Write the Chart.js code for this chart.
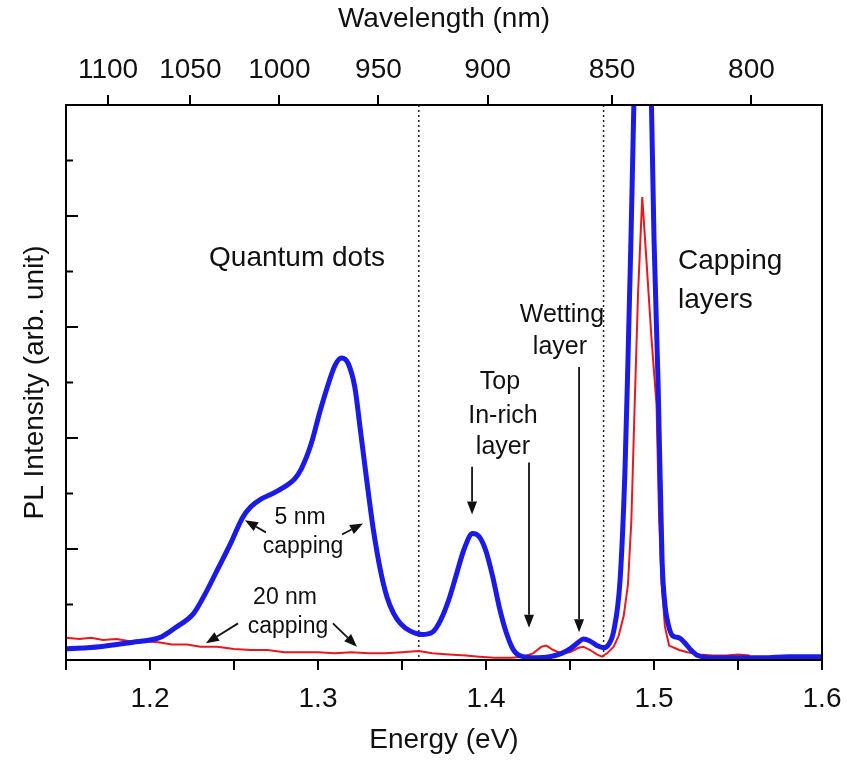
<!DOCTYPE html>
<html>
<head>
<meta charset="utf-8">
<script src="https://cdn.jsdelivr.net/npm/chart.js@4.4.1/dist/chart.umd.min.js"></script>
<style>
    html, body { margin: 0; padding: 0; background: #fff; }
</style>
</head>
<body>
<canvas id="pl-chart" width="847" height="762"></canvas>
<script>
// Blue curve: 5 nm capping
const blueEnergy = [1.150, 1.170, 1.190, 1.200, 1.207, 1.215, 1.226, 1.233, 1.240, 1.248, 1.255, 1.260, 1.266, 1.273, 1.280, 1.286, 1.290, 1.296, 1.301, 1.306, 1.310, 1.314, 1.318, 1.322, 1.325, 1.329, 1.333, 1.337, 1.341, 1.345, 1.349, 1.355, 1.362, 1.368, 1.373, 1.378, 1.382, 1.387, 1.392, 1.396, 1.400, 1.404, 1.408, 1.412, 1.416, 1.420, 1.430, 1.438, 1.445, 1.450, 1.455, 1.458, 1.462, 1.466, 1.470, 1.473, 1.476, 1.4798, 1.4827, 1.4845, 1.4863, 1.4880, 1.4905, 1.4932, 1.4960, 1.4985, 1.5000, 1.5024, 1.5048, 1.5065, 1.5085, 1.511, 1.515, 1.518, 1.522, 1.526, 1.535, 1.550, 1.565, 1.580, 1.600];
const blueIntensity = [0.10, 0.12, 0.16, 0.18, 0.21, 0.29, 0.42, 0.60, 0.81, 1.05, 1.28, 1.38, 1.45, 1.50, 1.56, 1.63, 1.72, 1.95, 2.23, 2.48, 2.65, 2.72, 2.67, 2.45, 2.10, 1.62, 1.17, 0.82, 0.57, 0.42, 0.33, 0.26, 0.23, 0.25, 0.36, 0.55, 0.75, 1.00, 1.14, 1.11, 0.98, 0.75, 0.47, 0.25, 0.10, 0.04, 0.02, 0.03, 0.06, 0.10, 0.16, 0.19, 0.17, 0.13, 0.11, 0.14, 0.26, 0.72, 1.70, 2.70, 3.80, 5.00, 6.80, 7.60, 6.80, 5.00, 3.80, 2.52, 0.90, 0.50, 0.32, 0.22, 0.20, 0.16, 0.09, 0.04, 0.02, 0.02, 0.02, 0.03, 0.03];

// Red curve: 20 nm capping
const redEnergy = [1.150, 1.158, 1.165, 1.172, 1.180, 1.188, 1.196, 1.205, 1.213, 1.222, 1.230, 1.240, 1.250, 1.260, 1.270, 1.280, 1.290, 1.300, 1.310, 1.320, 1.330, 1.340, 1.350, 1.360, 1.368, 1.378, 1.388, 1.396, 1.405, 1.415, 1.422, 1.428, 1.433, 1.436, 1.440, 1.445, 1.450, 1.455, 1.458, 1.462, 1.466, 1.469, 1.472, 1.476, 1.479, 1.482, 1.4845, 1.4865, 1.4885, 1.4905, 1.4930, 1.4955, 1.4985, 1.5015, 1.5030, 1.5045, 1.5065, 1.509, 1.515, 1.520, 1.527, 1.535, 1.543, 1.550, 1.557];
const redIntensity = [0.20, 0.19, 0.20, 0.18, 0.19, 0.17, 0.17, 0.16, 0.14, 0.14, 0.12, 0.12, 0.10, 0.09, 0.09, 0.07, 0.07, 0.07, 0.06, 0.07, 0.06, 0.06, 0.07, 0.08, 0.06, 0.05, 0.04, 0.03, 0.02, 0.02, 0.03, 0.06, 0.12, 0.13, 0.09, 0.06, 0.07, 0.11, 0.12, 0.09, 0.05, 0.03, 0.06, 0.12, 0.22, 0.40, 0.68, 1.25, 2.30, 3.30, 4.17, 3.60, 2.90, 2.30, 1.30, 0.70, 0.30, 0.13, 0.09, 0.07, 0.05, 0.04, 0.04, 0.05, 0.04];

// Axis ticks
const energyMajorTicks = [1.2, 1.3, 1.4, 1.5, 1.6];
const energyMinorTicks = [1.15, 1.25, 1.35, 1.45, 1.55];
const wavelengthLabels = [1100, 1050, 1000, 950, 900, 850, 800];
const wavelengthTickEnergy = [1.175, 1.224, 1.277, 1.336, 1.401, 1.475, 1.558];
const intensityMajorTicks = [1, 2, 3, 4];
const intensityMinorTicks = [0.5, 1.5, 2.5, 3.5, 4.5];

// Dotted region dividers (eV)
const dividerEnergy = [1.36, 1.47];

const FONT = "'Liberation Sans', Arial, Helvetica, sans-serif";

// Text labels placed in data coordinates
const textLabels = [
    { text: 'Quantum dots', x: 1.2875, y: 3.62, size: 28, align: 'center' },
    { text: 'Capping', x: 1.5143, y: 3.59, size: 28, align: 'left' },
    { text: 'layers', x: 1.5143, y: 3.24, size: 28, align: 'left' },
    { text: 'Wetting', x: 1.4452, y: 3.11, size: 25, align: 'center' },
    { text: 'layer', x: 1.4440, y: 2.82, size: 25, align: 'center' },
    { text: 'Top', x: 1.4083, y: 2.50, size: 25, align: 'center' },
    { text: 'In-rich', x: 1.4101, y: 2.20, size: 25, align: 'center' },
    { text: 'layer', x: 1.4101, y: 1.92, size: 25, align: 'center' },
    { text: '5 nm', x: 1.2893, y: 1.28, size: 23, align: 'center' },
    { text: 'capping', x: 1.2911, y: 1.02, size: 23, align: 'center' },
    { text: '20 nm', x: 1.2804, y: 0.56, size: 23, align: 'center' },
    { text: 'capping', x: 1.2821, y: 0.30, size: 23, align: 'center' }
];

// Arrows: from (x1, y1) to tip (x2, y2), data coordinates
const arrows = [
    { x1: 1.3917, y1: 1.74, x2: 1.3917, y2: 1.31 },
    { x1: 1.4256, y1: 1.78, x2: 1.4256, y2: 0.29 },
    { x1: 1.4554, y1: 2.64, x2: 1.4554, y2: 0.25 },
    { x1: 1.2690, y1: 1.15, x2: 1.2565, y2: 1.26 },
    { x1: 1.3143, y1: 1.13, x2: 1.3268, y2: 1.23 },
    { x1: 1.2524, y1: 0.33, x2: 1.2333, y2: 0.15 },
    { x1: 1.3089, y1: 0.33, x2: 1.3232, y2: 0.12 }
];

function toPoints(xs, ys) {
    return xs.map((x, i) => ({ x: x, y: ys[i] }));
}

function drawArrow(ctx, x1, y1, x2, y2) {
    const angle = Math.atan2(y2 - y1, x2 - x1);
    const headLen = 13;
    const headHalf = 5;
    const bx = x2 - headLen * Math.cos(angle);
    const by = y2 - headLen * Math.sin(angle);
    ctx.beginPath();
    ctx.moveTo(x1, y1);
    ctx.lineTo(bx, by);
    ctx.stroke();
    ctx.beginPath();
    ctx.moveTo(x2, y2);
    ctx.lineTo(bx + headHalf * Math.sin(angle), by - headHalf * Math.cos(angle));
    ctx.lineTo(bx - headHalf * Math.sin(angle), by + headHalf * Math.cos(angle));
    ctx.closePath();
    ctx.fill();
}

// Plugin for dividers, inward y ticks, frame, text and arrows
const decorations = {
    id: 'decorations',
    beforeDatasetsDraw(chart) {
        const { ctx, chartArea, scales } = chart;
        ctx.save();
        ctx.strokeStyle = '#222';
        ctx.lineWidth = 1.5;
        ctx.setLineDash([2, 3]);
        dividerEnergy.forEach(e => {
            const px = scales.x.getPixelForValue(e);
            ctx.beginPath();
            ctx.moveTo(px, chartArea.top);
            ctx.lineTo(px, chartArea.bottom);
            ctx.stroke();
        });
        ctx.restore();
    },
    afterDatasetsDraw(chart) {
        const { ctx, chartArea, scales } = chart;
        const x = scales.x;
        const y = scales.y;
        ctx.save();

        // frame
        ctx.strokeStyle = '#000';
        ctx.lineWidth = 2;
        ctx.strokeRect(chartArea.left, chartArea.top, chartArea.right - chartArea.left, chartArea.bottom - chartArea.top);

        // inward ticks on the left axis
        intensityMajorTicks.forEach(v => {
            const py = y.getPixelForValue(v);
            ctx.beginPath();
            ctx.moveTo(chartArea.left, py);
            ctx.lineTo(chartArea.left + 12, py);
            ctx.stroke();
        });
        intensityMinorTicks.forEach(v => {
            const py = y.getPixelForValue(v);
            ctx.beginPath();
            ctx.moveTo(chartArea.left, py);
            ctx.lineTo(chartArea.left + 7, py);
            ctx.stroke();
        });

        // text labels
        ctx.fillStyle = '#111';
        ctx.textBaseline = 'middle';
        textLabels.forEach(t => {
            ctx.font = t.size + 'px ' + FONT;
            ctx.textAlign = t.align;
            ctx.fillText(t.text, x.getPixelForValue(t.x), y.getPixelForValue(t.y));
        });

        // arrows
        ctx.strokeStyle = '#111';
        ctx.fillStyle = '#111';
        ctx.lineWidth = 1.8;
        arrows.forEach(a => {
            drawArrow(ctx, x.getPixelForValue(a.x1), y.getPixelForValue(a.y1),
                x.getPixelForValue(a.x2), y.getPixelForValue(a.y2));
        });
        ctx.restore();
    }
};

const tickFont = { family: FONT, size: 28 };
const titleFont = { family: FONT, size: 28 };

// keep the plot box fixed: no extra room for edge labels
function fixHorizontal(height) {
    return s => {
        s.height = height;
        s.paddingLeft = 0;
        s.paddingRight = 0;
    };
}

const ctx = document.getElementById('pl-chart').getContext('2d');
window.plChart = new Chart(ctx, {
    type: 'line',
    data: {
        datasets: [
            {
                label: '5 nm capping',
                data: toPoints(blueEnergy, blueIntensity),
                borderColor: '#1b1be8',
                borderWidth: 5,
                pointRadius: 0,
                cubicInterpolationMode: 'monotone',
                clip: 0
            },
            {
                label: '20 nm capping',
                data: toPoints(redEnergy, redIntensity),
                borderColor: '#e8191e',
                borderWidth: 2,
                pointRadius: 0,
                tension: 0,
                clip: 0
            }
        ]
    },
    options: {
        responsive: false,
        animation: false,
        layout: { padding: { left: 0, right: 25, top: 0, bottom: 0 } },
        plugins: {
            legend: { display: false },
            tooltip: { enabled: false }
        },
        scales: {
            x: {
                type: 'linear',
                position: 'bottom',
                min: 1.15,
                max: 1.6,
                afterBuildTicks: s => {
                    s.ticks = energyMinorTicks.concat(energyMajorTicks)
                        .sort((a, b) => a - b)
                        .map(v => ({ value: v }));
                },
                afterFit: fixHorizontal(102),
                ticks: {
                    autoSkip: false,
                    maxRotation: 0,
                    padding: 12,
                    color: '#111',
                    font: tickFont,
                    callback: v => energyMajorTicks.some(m => Math.abs(m - v) < 1e-6) ? v.toFixed(1) : ''
                },
                grid: { drawOnChartArea: false, tickLength: 10, color: '#000', lineWidth: 2 },
                border: { display: true, color: '#000', width: 2 },
                title: { display: true, text: 'Energy (eV)', color: '#111', font: titleFont, padding: { top: 0, bottom: 5 } }
            },
            x2: {
                type: 'linear',
                position: 'top',
                min: 1.15,
                max: 1.6,
                afterBuildTicks: s => {
                    s.ticks = wavelengthTickEnergy.map(v => ({ value: v }));
                },
                afterFit: fixHorizontal(105),
                ticks: {
                    autoSkip: false,
                    maxRotation: 0,
                    padding: 8,
                    color: '#111',
                    font: tickFont,
                    callback: (v, i) => String(wavelengthLabels[i])
                },
                grid: { drawOnChartArea: false, tickLength: 10, color: '#000', lineWidth: 2 },
                border: { display: true, color: '#000', width: 2 },
                title: { display: true, text: 'Wavelength (nm)', color: '#111', font: titleFont, padding: { top: 2, bottom: 0 } }
            },
            y: {
                type: 'linear',
                position: 'left',
                min: 0,
                max: 5,
                afterFit: s => { s.width = 66; },
                ticks: { display: false },
                grid: { display: false },
                border: { display: true, color: '#000', width: 2 },
                title: { display: true, text: 'PL Intensity (arb. unit)', color: '#111', font: titleFont, padding: { top: 18, bottom: 0 } }
            }
        }
    },
    plugins: [decorations]
});
</script>
</body>
</html>
